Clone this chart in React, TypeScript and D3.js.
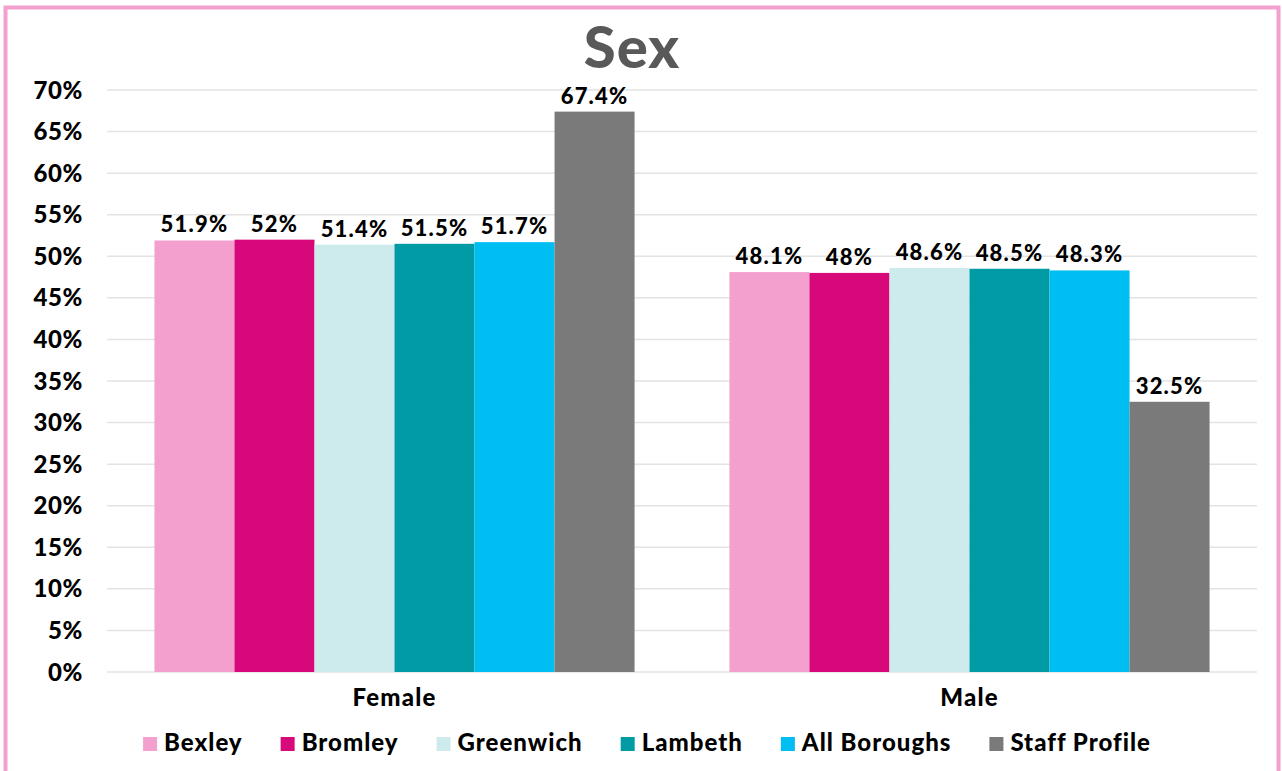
import React, { useEffect, useRef } from 'react';
import * as d3 from 'd3';

const categories = ['Female', 'Male'];
const seriesNames = ['Bexley', 'Bromley', 'Greenwich', 'Lambeth', 'All Boroughs', 'Staff Profile'];
const seriesColors = ['#F4A0CF', '#D6087A', '#CDEAEC', '#009BA5', '#00BDF2', '#7A7A7A'];
const femaleValues = [51.9, 52, 51.4, 51.5, 51.7, 67.4];
const maleValues = [48.1, 48, 48.6, 48.5, 48.3, 32.5];
const yTicks = [0, 5, 10, 15, 20, 25, 30, 35, 40, 45, 50, 55, 60, 65, 70];

const FONT = 'Lato, "Open Sans", sans-serif';

const App: React.FC = () => {
  const svgRef = useRef<SVGSVGElement>(null);
  const width = 1282;
  const height = 771;

  useEffect(() => {
    if (!svgRef.current) return;
    const svg = d3.select(svgRef.current);
    svg.selectAll('*').remove();

    const margin = { top: 90, right: 25, bottom: 99, left: 107 };
    const innerW = width - margin.left - margin.right;
    const innerH = height - margin.top - margin.bottom;

    // frame
    svg.append('rect')
      .attr('x', 5.5).attr('y', 7.5)
      .attr('width', 1273).attr('height', 780)
      .attr('fill', '#fff')
      .attr('stroke', '#F4A0CF')
      .attr('stroke-width', 4);

    svg.append('text')
      .attr('x', 632).attr('y', 68)
      .attr('text-anchor', 'middle')
      .style('font-family', FONT)
      .style('font-weight', 900)
      .style('font-size', '58px')
      .style('letter-spacing', '1px')
      .style('fill', '#595959')
      .text('Sex');

    const g = svg.append('g').attr('transform', `translate(${margin.left},${margin.top})`);

    const y = d3.scaleLinear().domain([0, 70]).range([innerH, 0]);
    const x0 = d3.scaleBand<string>().domain(categories).range([0, innerW]).paddingInner(0.165).paddingOuter(0.0825);
    const x1 = d3.scaleBand<string>().domain(seriesNames).range([0, x0.bandwidth()]).padding(0);

    g.selectAll('line.grid')
      .data(yTicks)
      .join('line')
      .attr('class', 'grid')
      .attr('x1', 0).attr('x2', innerW)
      .attr('y1', d => y(d)).attr('y2', d => y(d))
      .attr('stroke', '#E3E3E3')
      .attr('stroke-width', 1.5);

    g.selectAll('text.ytick')
      .data(yTicks)
      .join('text')
      .attr('class', 'ytick')
      .attr('x', -24)
      .attr('y', d => y(d))
      .attr('dy', '0.36em')
      .attr('text-anchor', 'end')
      .style('font-family', FONT)
      .style('font-weight', 900)
      .style('font-size', '24px')
      .style('letter-spacing', '0.6px')
      .style('fill', '#000')
      .text(d => `${d}%`);

    const valuesByCat = [femaleValues, maleValues];
    categories.forEach((cat, ci) => {
      const cg = g.append('g').attr('transform', `translate(${x0(cat)},0)`);
      const vals = valuesByCat[ci];
      cg.selectAll('rect')
        .data(vals)
        .join('rect')
        .attr('x', (_, i) => x1(seriesNames[i])!)
        .attr('y', d => y(d))
        .attr('width', x1.bandwidth())
        .attr('height', d => innerH - y(d))
        .attr('fill', (_, i) => seriesColors[i]);
      cg.selectAll('text')
        .data(vals)
        .join('text')
        .attr('x', (_, i) => x1(seriesNames[i])! + x1.bandwidth() / 2)
        .attr('y', d => y(d) - 8)
        .attr('text-anchor', 'middle')
        .style('font-family', FONT)
        .style('font-weight', 900)
        .style('font-size', '22px')
        .style('letter-spacing', '1.2px')
        .style('fill', '#000')
        .text(d => `${d}%`);
      g.append('text')
        .attr('x', x0(cat)! + x0.bandwidth() / 2)
        .attr('y', innerH + 34)
        .attr('text-anchor', 'middle')
        .style('font-family', FONT)
        .style('font-weight', 900)
        .style('font-size', '24px')
        .style('letter-spacing', '1.2px')
        .style('fill', '#000')
        .text(cat);
    });

    // legend
    const legend = svg.append('g');
    const items = legend.selectAll('g')
      .data(seriesNames)
      .join('g');
    items.append('rect')
      .attr('y', -14)
      .attr('width', 14).attr('height', 14)
      .attr('fill', (_, i) => seriesColors[i]);
    const labels = items.append('text')
      .attr('x', 21)
      .attr('y', 0)
      .style('font-family', FONT)
      .style('font-weight', 900)
      .style('font-size', '24px')
      .style('letter-spacing', '1px')
      .style('fill', '#000')
      .text(d => d);
    const widths: number[] = [];
    labels.each(function () { widths.push((this as SVGTextElement).getComputedTextLength()); });
    const gap = 38;
    const total = d3.sum(widths.map(w => 21 + w)) + gap * (widths.length - 1);
    let cx = 647 - total / 2;
    items.attr('transform', (_, i) => {
      const t = `translate(${cx},751)`;
      cx += 21 + widths[i] + gap;
      return t;
    });
  }, []);

  return (
    <svg
      ref={svgRef}
      width={width}
      height={height}
      style={{ position: 'absolute', left: 0, top: 0, background: '#fff' }}
    />
  );
};

export default App;
